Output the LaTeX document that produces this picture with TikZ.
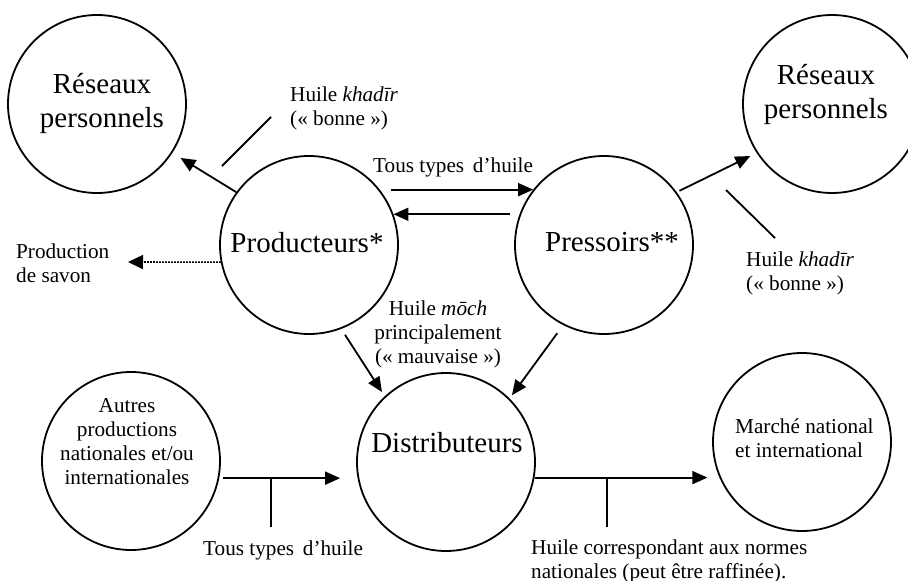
\documentclass[tikz,border=0pt]{standalone}
\usepackage{fontspec}
\setmainfont{Liberation Serif}
\usetikzlibrary{arrows.meta,calc}
\tikzset{
  circ/.style={draw, circle, line width=1.8pt, minimum size=178pt, inner sep=0pt},
  big/.style={inner sep=0pt, align=center, font=\fontsize{29}{34}\selectfont},
  small/.style={inner sep=0pt, font=\fontsize{21.2}{24}\selectfont},
  flow/.style={line width=1.8pt, -{Triangle[length=15pt,width=13pt]}},
  plain/.style={line width=1.8pt},
  dotflow/.style={line width=1.6pt, dash pattern=on 1.6pt off 1.4pt, -{Triangle[length=15pt,width=14pt]}}
}
\begin{document}
\begin{tikzpicture}[x=1pt,y=-1pt]
\useasboundingbox (0,0) rectangle (908,581);
% circles
\node[circ] (resL) at (97,104) {};
\node[circ] (resR) at (832,104) {};
\node[circ] (prod) at (309,245) {};
\node[circ] (press) at (604,245) {};
\node[circ] (autres) at (131,461) {};
\node[circ] (dist) at (446,462) {};
\node[circ] (marche) at (802,442) {};
% texts in circles (base anchor = baseline of last line)
\node[big, anchor=base] (tresL) at (102,127) {Réseaux\\personnels};
\node[big, anchor=base] (tresR) at (826,118) {Réseaux\\personnels};
\node[big, anchor=base] (tprod) at (307,252) {Producteurs*};
\node[big, anchor=base] (tpress) at (612,251) {Pressoirs**};
\node[big, anchor=base] (tdist) at (447,452) {Distributeurs};
\node[small, align=center, anchor=base] (tautres) at (127,484) {Autres\\productions\\nationales et/ou\\internationales};
\node[small, align=left, anchor=base west] (tmarche) at (735,457) {Marché national\\et international};
% labels
\node[small, align=left, anchor=base west] (lkhL) at (290,125) {Huile \textit{khadīr}\\(« bonne »)};
\node[small, anchor=base west] (ltous1) at (373,172) {Tous types\, d’huile};
\node[small, align=left, anchor=base west] (lsavon) at (16,282) {Production\\de savon};
\node[small, align=left, anchor=base west] (lkhR) at (746,290) {Huile \textit{khadīr}\\(« bonne »)};
\node[small, align=center, anchor=base] (lmoch) at (438,363) {Huile \textit{mōch}\\principalement\\(« mauvaise »)};
\node[small, anchor=base west] (ltous2) at (203,555) {Tous types\, d’huile};
\node[small, align=left, anchor=base west] (lnormes) at (531,578) {Huile correspondant aux normes\\nationales (peut être raffinée).};
% connectors
\draw[flow, shorten >=9.5pt] (prod.144) -- (resL.-33);
\draw[flow, shorten <=3pt, shorten >=7pt] (press.36) -- (resR.213);
\draw[flow, shorten <=11pt] (prod.38) -- (press.142);
\draw[flow, shorten <=10pt] (press.160) -- (prod.20);
\coordinate (soapend) at (128,262);
\draw[dotflow] (prod.191) -- (soapend);
\draw[flow, shorten <=7pt, shorten >=5pt] (prod.-69) -- (dist.133);
\draw[flow, shorten <=10pt, shorten >=4pt] (press.243) -- (dist.45);
\draw[flow, shorten <=3.5pt, shorten >=16pt] (autres.-11) -- (autres.-11 -| dist.west);
\draw[flow, shorten >=12.5pt] (dist.-10) -- (dist.-10 -| marche.204);
% ticks
\coordinate (tick1) at (271,478);
\coordinate (tick2) at (607,478);
\draw[plain] (tick1) -- ++(0,49);
\draw[plain] (tick2) -- ++(0,49);
% pointer lines
\coordinate (pL1) at (222,166);
\coordinate (pL2) at (271,117);
\coordinate (pR1) at (726,190);
\coordinate (pR2) at (775,238);
\draw[plain] (pL1) -- (pL2);
\draw[plain] (pR1) -- (pR2);
\end{tikzpicture}
\end{document}
